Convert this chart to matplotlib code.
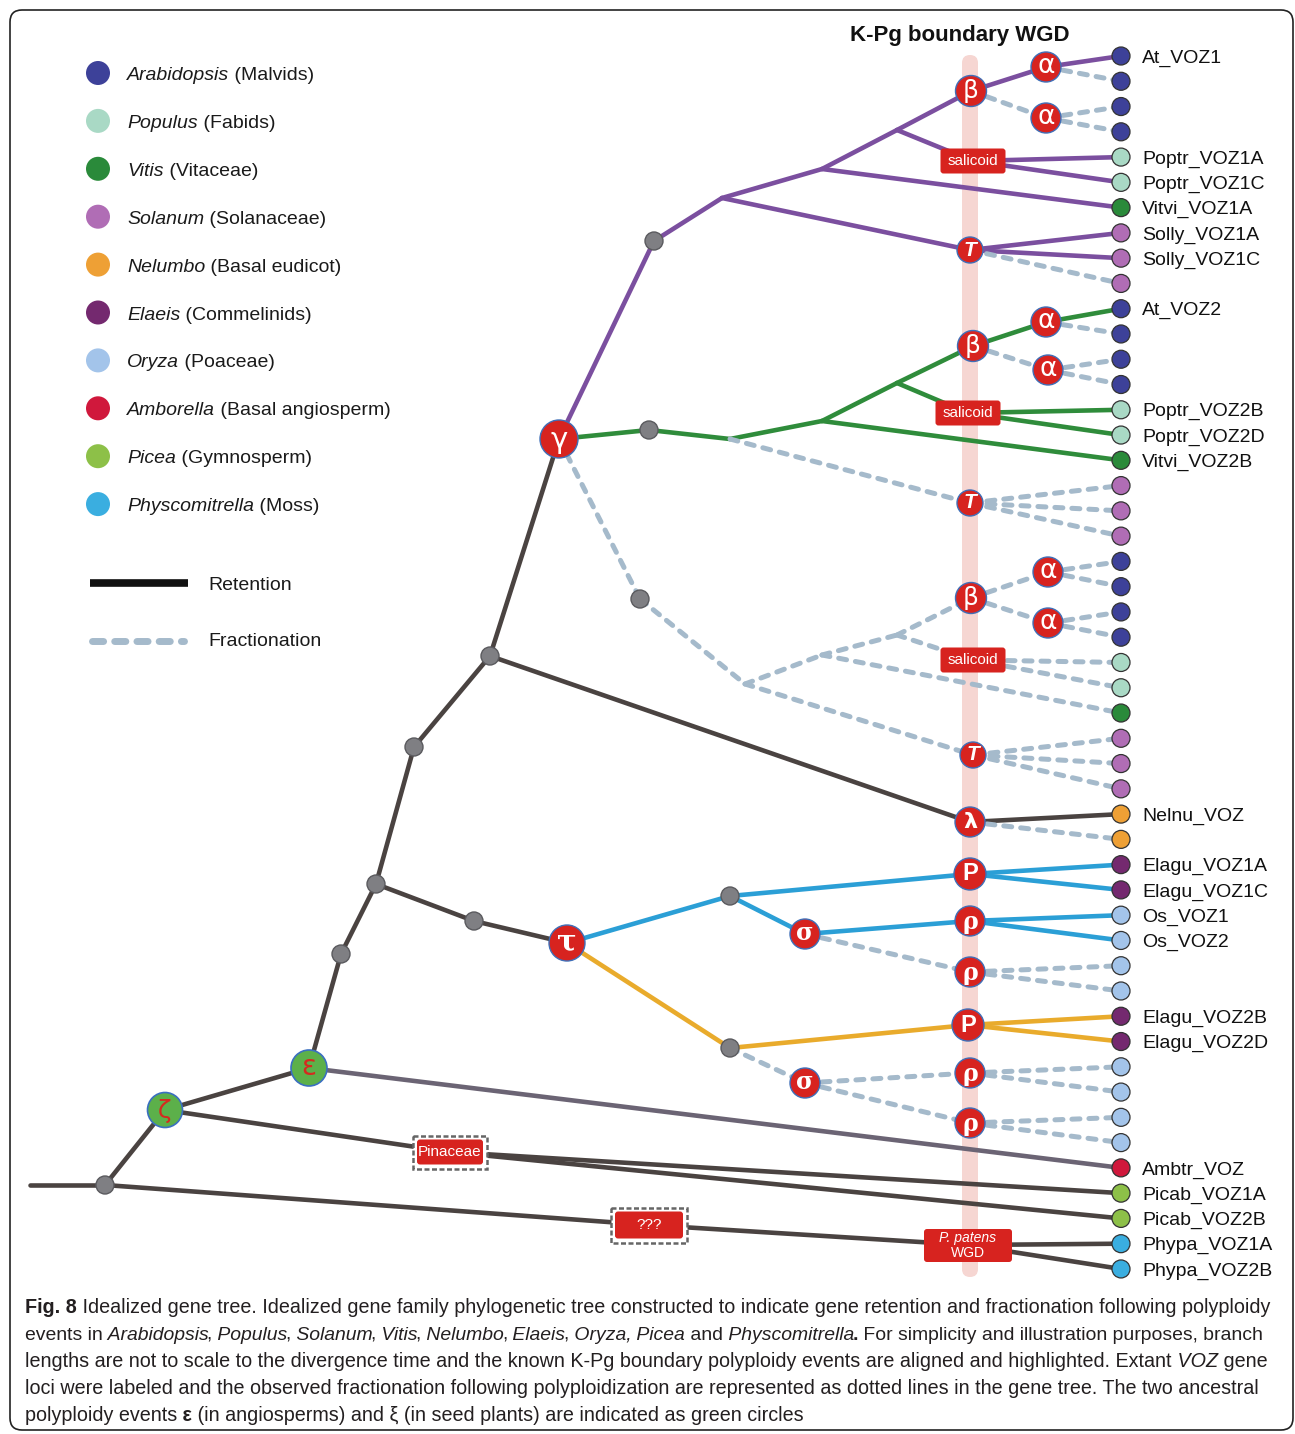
import matplotlib
matplotlib.use('Agg')
import matplotlib.pyplot as plt
from matplotlib.patches import Circle, FancyBboxPatch, Rectangle
from matplotlib.font_manager import FontProperties, findfont

# ---- tips (top to bottom) ----
tip_labels = ['At_VOZ1', '', '', '', 'Poptr_VOZ1A', 'Poptr_VOZ1C', 'Vitvi_VOZ1A',
              'Solly_VOZ1A', 'Solly_VOZ1C', '',
              'At_VOZ2', '', '', '', 'Poptr_VOZ2B', 'Poptr_VOZ2D', 'Vitvi_VOZ2B',
              '', '', '',
              '', '', '', '', '', '', '', '', '', '',
              'Nelnu_VOZ', '', 'Elagu_VOZ1A', 'Elagu_VOZ1C', 'Os_VOZ1', 'Os_VOZ2', '', '',
              'Elagu_VOZ2B', 'Elagu_VOZ2D', '', '', '', '',
              'Ambtr_VOZ', 'Picab_VOZ1A', 'Picab_VOZ2B', 'Phypa_VOZ1A', 'Phypa_VOZ2B']
tip_species = (['Ara'] * 4 + ['Pop'] * 2 + ['Vit'] + ['Sol'] * 3) * 3 + \
    ['Nel'] * 2 + ['Ela'] * 2 + ['Ory'] * 4 + ['Ela'] * 2 + ['Ory'] * 4 + \
    ['Amb'] + ['Pic'] * 2 + ['Phy'] * 2

# ---- legend ----
legend_codes = ['Ara', 'Pop', 'Vit', 'Sol', 'Nel', 'Ela', 'Ory', 'Amb', 'Pic', 'Phy']
legend_genus = ['Arabidopsis', 'Populus', 'Vitis', 'Solanum', 'Nelumbo', 'Elaeis',
                'Oryza', 'Amborella', 'Picea', 'Physcomitrella']
legend_group = ['Malvids', 'Fabids', 'Vitaceae', 'Solanaceae', 'Basal eudicot',
                'Commelinids', 'Poaceae', 'Basal angiosperm', 'Gymnosperm', 'Moss']
species_color = {'Ara': '#3d4199', 'Pop': '#a9d9c5', 'Vit': '#2a8a3a', 'Sol': '#b06db5',
                 'Nel': '#eea035', 'Ela': '#74296f', 'Ory': '#a3c4ea', 'Amb': '#d0183c',
                 'Pic': '#8dc048', 'Phy': '#3aaee0'}

# ---- internal nodes: name -> (x, y) ----
nodes = {
    'stub': (30, 1185), 'root': (105, 1185), 'zeta': (165, 1110), 'eps': (309, 1068),
    'n1': (341, 954), 'n2': (376, 884), 'n3': (474, 921), 'tau': (567, 943),
    'n4': (414, 747), 'n5': (490, 656), 'lam': (970, 822), 'gam': (559, 439),
    'p1': (654, 241), 'p2': (722, 198), 'p3': (822, 169), 'p4': (897, 130),
    'pb': (971, 91), 'pa1': (1046, 67), 'pa2': (1046, 118), 'ps': (973, 161), 'pT': (970, 250),
    'g1': (649, 430), 'g2': (730, 439), 'g3': (822, 421), 'g4': (897, 383),
    'gb': (973, 346), 'ga1': (1046, 322), 'ga2': (1048, 370), 'gs': (968, 413), 'gT': (970, 503),
    'd1': (640, 599), 'd2': (745, 684), 'd3': (822, 655), 'd4': (897, 635),
    'db': (971, 598), 'da1': (1048, 572), 'da2': (1048, 623), 'ds': (973, 660), 'dT': (973, 755),
    'b1': (730, 896), 'bP': (970, 874), 'bs': (805, 934), 'br1': (970, 921), 'br2': (970, 972),
    'o1': (730, 1048), 'oP': (968, 1025), 'os': (805, 1083), 'or1': (970, 1073), 'or2': (970, 1123),
    'pin': (450, 1152), 'qqq': (649, 1225), 'ppw': (968, 1245),
}
grey_nodes = ['root', 'n1', 'n2', 'n3', 'n4', 'n5', 'p1', 'g1', 'd1', 'b1', 'o1']

# event circles: node, glyph, radius
events = [('pb', 'β', 15.5), ('pa1', 'α', 15), ('pa2', 'α', 15), ('pT', 'T', 13),
          ('gb', 'β', 15.5), ('ga1', 'α', 15), ('ga2', 'α', 15), ('gT', 'T', 13),
          ('db', 'β', 15.5), ('da1', 'α', 15), ('da2', 'α', 15), ('dT', 'T', 13),
          ('lam', 'λ', 15), ('gam', 'γ', 19), ('tau', 'τ', 18),
          ('bP', 'P', 16), ('bs', 'σ', 15), ('br1', 'ρ', 15), ('br2', 'ρ', 15),
          ('oP', 'P', 16), ('os', 'σ', 15), ('or1', 'ρ', 15), ('or2', 'ρ', 15)]
green_events = [('zeta', 'ζ', 17.5), ('eps', 'ε', 18)]

# labelled boxes: node, text, width, height, dashed frame
boxes = [('ps', 'salicoid', 65, 25, False), ('gs', 'salicoid', 65, 25, False),
         ('ds', 'salicoid', 65, 25, False), ('pin', 'Pinaceae', 66, 25, True),
         ('qqq', '???', 68, 27, True)]

# ---- branches: parent, child, style ----
edges = [('stub', 'root', 'k'), ('root', 'zeta', 'k'), ('root', 'qqq', 'k'), ('qqq', 'ppw', 'k'),
         ('ppw', 47, 'k'), ('ppw', 48, 'k'), ('zeta', 'eps', 'k'), ('zeta', 'pin', 'k'),
         ('pin', 45, 'k'), ('pin', 46, 'k'), ('eps', 44, 'amb'), ('eps', 'n1', 'k'),
         ('n1', 'n2', 'k'), ('n2', 'n3', 'k'), ('n3', 'tau', 'k'), ('n2', 'n4', 'k'),
         ('n4', 'n5', 'k'), ('n5', 'lam', 'k'), ('lam', 30, 'k'), ('lam', 31, 'frac'),
         ('n5', 'gam', 'k'),
         ('gam', 'p1', 'pur'), ('p1', 'p2', 'pur'), ('p2', 'p3', 'pur'), ('p3', 'p4', 'pur'),
         ('p4', 'pb', 'pur'), ('pb', 'pa1', 'pur'), ('pa1', 0, 'pur'), ('pa1', 1, 'frac'),
         ('pb', 'pa2', 'frac'), ('pa2', 2, 'frac'), ('pa2', 3, 'frac'), ('p4', 'ps', 'pur'),
         ('ps', 4, 'pur'), ('ps', 5, 'pur'), ('p3', 6, 'pur'), ('p2', 'pT', 'pur'),
         ('pT', 7, 'pur'), ('pT', 8, 'pur'), ('pT', 9, 'frac'),
         ('gam', 'g1', 'grn'), ('g1', 'g2', 'grn'), ('g2', 'g3', 'grn'), ('g3', 'g4', 'grn'),
         ('g4', 'gb', 'grn'), ('gb', 'ga1', 'grn'), ('ga1', 10, 'grn'), ('ga1', 11, 'frac'),
         ('gb', 'ga2', 'frac'), ('ga2', 12, 'frac'), ('ga2', 13, 'frac'), ('g4', 'gs', 'grn'),
         ('gs', 14, 'grn'), ('gs', 15, 'grn'), ('g3', 16, 'grn'), ('g2', 'gT', 'frac'),
         ('gT', 17, 'frac'), ('gT', 18, 'frac'), ('gT', 19, 'frac'),
         ('gam', 'd1', 'frac'), ('d1', 'd2', 'frac'), ('d2', 'd3', 'frac'), ('d3', 'd4', 'frac'),
         ('d4', 'db', 'frac'), ('db', 'da1', 'frac'), ('da1', 20, 'frac'), ('da1', 21, 'frac'),
         ('db', 'da2', 'frac'), ('da2', 22, 'frac'), ('da2', 23, 'frac'), ('d4', 'ds', 'frac'),
         ('ds', 24, 'frac'), ('ds', 25, 'frac'), ('d3', 26, 'frac'), ('d2', 'dT', 'frac'),
         ('dT', 27, 'frac'), ('dT', 28, 'frac'), ('dT', 29, 'frac'),
         ('tau', 'b1', 'blu'), ('b1', 'bP', 'blu'), ('bP', 32, 'blu'), ('bP', 33, 'blu'),
         ('b1', 'bs', 'blu'), ('bs', 'br1', 'blu'), ('br1', 34, 'blu'), ('br1', 35, 'blu'),
         ('bs', 'br2', 'frac'), ('br2', 36, 'frac'), ('br2', 37, 'frac'),
         ('tau', 'o1', 'org'), ('o1', 'oP', 'org'), ('oP', 38, 'org'), ('oP', 39, 'org'),
         ('o1', 'os', 'frac'), ('os', 'or1', 'frac'), ('or1', 40, 'frac'), ('or1', 41, 'frac'),
         ('os', 'or2', 'frac'), ('or2', 42, 'frac'), ('or2', 43, 'frac')]
line_color = {'k': '#4a4341', 'amb': '#6b6474', 'pur': '#7b4f9f', 'grn': '#2f8c3b',
              'blu': '#2b9fd6', 'org': '#e9ab2c', 'frac': '#a5bacb'}

caption_lines = [
    [('Fig. 8', 'b'), (' Idealized gene tree. Idealized gene family phylogenetic tree constructed to indicate gene retention and fractionation following polyploidy', '')],
    [('events in', ''), (' Arabidopsis', 'i'), (',', ''), (' Populus', 'i'), (',', ''), (' Solanum', 'i'),
     (',', ''), (' Vitis', 'i'), (',', ''), (' Nelumbo', 'i'), (',', ''), (' Elaeis', 'i'), (',', ''),
     (' Oryza,', 'i'), (' Picea', 'i'), (' and', ''), (' Physcomitrella', 'i'), ('.', 'b'),
     (' For simplicity and illustration purposes, branch', '')],
    [('lengths are not to scale to the divergence time and the known K-Pg boundary polyploidy events are aligned and highlighted. Extant', ''),
     (' VOZ', 'i'), (' gene', '')],
    [('loci were labeled and the observed fractionation following polyploidization are represented as dotted lines in the gene tree. The two ancestral', '')],
    [('polyploidy events', ''), (' ε', 'b'), (' (in angiosperms) and ξ (in seed plants) are indicated as green circles', '')],
]

W, H = 1295, 1434
TIP_X, TIP_TOP, TIP_STEP = 1121, 56, 25.27
SANS = 'Liberation Sans'

fig = plt.figure(figsize=(W / 100, H / 100), dpi=100)
ax = fig.add_axes([0, 0, 1, 1])
ax.set_xlim(0, W)
ax.set_ylim(H, 0)
ax.axis('off')
renderer = fig.canvas.get_renderer()


def pos(n):
    if isinstance(n, int):
        return TIP_X, TIP_TOP + n * TIP_STEP
    return nodes[n]


def rich(x, y, parts, size, family, color='#1a1a1a', va='baseline', z=6):
    # lay out text pieces one after another, each with its own style
    arts = []
    for k, (s, st) in enumerate(parts):
        t = ax.text(x, y, s, fontsize=size, family=family, color=color, va=va, ha='left',
                    fontstyle='italic' if 'i' in st else 'normal',
                    fontweight='bold' if 'b' in st else 'normal', zorder=z)
        arts.append(t)
        bb = t.get_window_extent(renderer)
        x = ax.transData.inverted().transform((bb.x1, bb.y0))[0]
        nxt = parts[k + 1][0] if k + 1 < len(parts) else ' '
        if 'i' in st and not nxt.startswith(' '):
            # italic ink box overhangs the advance; pull punctuation back in
            x -= 0.09 * size * 100 / 72
    return x, arts


def pick_font(names):
    for n in names:
        try:
            findfont(FontProperties(family=n), fallback_to_default=False)
            return n
        except ValueError:
            pass
    return 'DejaVu Sans'


# frame
ax.add_patch(FancyBboxPatch((10, 10), 1283, 1420, boxstyle='round,pad=0,rounding_size=12',
                            fc='none', ec='#222222', lw=1.2, zorder=0))

# K-Pg band
ax.add_patch(FancyBboxPatch((962, 55), 16, 1222, boxstyle='round,pad=0,rounding_size=8',
                            fc='#f6d6d2', ec='none', zorder=1))
ax.text(960, 36, 'K-Pg boundary WGD', fontsize=16, family=SANS, fontweight='bold',
        ha='center', va='center', color='#111111')

# branches
for a, b, st in edges:
    (x0, y0), (x1, y1) = pos(a), pos(b)
    if st == 'frac':
        ax.plot([x0, x1], [y0, y1], color=line_color[st], lw=3.6, ls=(0, (1.6, 1.8)),
                dash_capstyle='round', zorder=2)
    else:
        ax.plot([x0, x1], [y0, y1], color=line_color[st], lw=3.3,
                solid_capstyle='round', zorder=2)

# tips and labels
for i, (lab, sp) in enumerate(zip(tip_labels, tip_species)):
    x, y = pos(i)
    ax.add_patch(Circle((x, y), 9, fc=species_color[sp], ec='#333333', lw=0.9, zorder=4))
    if lab:
        ax.text(x + 21, y, lab, fontsize=14, family=SANS, color='#111111',
                ha='left', va='center_baseline', zorder=6)

# grey nodes
for n in grey_nodes:
    ax.add_patch(Circle(nodes[n], 9, fc='#7f7f83', ec='#5a5a5e', lw=1, zorder=4))

# event circles
glyph_style = {
    'α': dict(family='DejaVu Sans', size=19, weight='normal', style='normal', dy=-1),
    'β': dict(family='DejaVu Sans', size=18, weight='normal', style='normal', dy=0),
    'T': dict(family=SANS, size=15, weight='bold', style='italic', dy=0),
    'λ': dict(family='DejaVu Sans', size=16, weight='bold', style='normal', dy=0),
    'γ': dict(family='DejaVu Sans', size=21, weight='normal', style='normal', dy=1),
    'τ': dict(family='DejaVu Serif', size=21, weight='bold', style='normal', dy=-1),
    'P': dict(family=SANS, size=17, weight='bold', style='normal', dy=0),
    'σ': dict(family='DejaVu Serif', size=17, weight='bold', style='normal', dy=-1),
    'ρ': dict(family='DejaVu Serif', size=17, weight='bold', style='normal', dy=1),
    'ζ': dict(family='DejaVu Sans', size=18, weight='normal', style='normal', dy=1),
    'ε': dict(family='DejaVu Sans', size=20, weight='normal', style='normal', dy=-1),
}
for n, g, r in events:
    x, y = nodes[n]
    ax.add_patch(Circle((x, y), r, fc='#d7231f', ec='#3f6fb8', lw=1, zorder=5))
    s = glyph_style[g]
    ax.text(x, y + s['dy'], g, fontsize=s['size'], family=s['family'], fontweight=s['weight'],
            fontstyle=s['style'], color='white', ha='center', va='center', zorder=6)
for n, g, r in green_events:
    x, y = nodes[n]
    ax.add_patch(Circle((x, y), r, fc='#5cb04a', ec='#3a6fc0', lw=1.2, zorder=5))
    s = glyph_style[g]
    ax.text(x, y + s['dy'], g, fontsize=s['size'], family=s['family'], color='#d52a1f',
            ha='center', va='center', zorder=6)

# labelled boxes
for n, txt, w, h, framed in boxes:
    x, y = nodes[n]
    if framed:
        ax.add_patch(Rectangle((x - w / 2 - 4, y - h / 2 - 4), w + 8, h + 8, fc='white',
                               ec='#666666', lw=1.8, ls=(0, (2, 1)), zorder=4))
    ax.add_patch(FancyBboxPatch((x - w / 2, y - h / 2), w, h,
                                boxstyle='round,pad=0,rounding_size=3',
                                fc='#d7231f', ec='none', zorder=5))
    ax.text(x, y, txt, fontsize=11, family=SANS, color='white', ha='center',
            va='center', zorder=6)

# P. patens WGD box
x, y = nodes['ppw']
ax.add_patch(FancyBboxPatch((x - 44, y - 16), 88, 33, boxstyle='round,pad=0,rounding_size=3',
                            fc='#d7231f', ec='none', zorder=5))
ax.text(x, y - 7, 'P. patens', fontsize=10, family=SANS, fontstyle='italic', color='white',
        ha='center', va='center', zorder=6)
ax.text(x, y + 8, 'WGD', fontsize=10, family=SANS, color='white',
        ha='center', va='center', zorder=6)

# legend
for i, (code, genus, group) in enumerate(zip(legend_codes, legend_genus, legend_group)):
    y = 73 + i * 47.9
    ax.add_patch(Circle((98, y), 12, fc=species_color[code], ec='none', zorder=4))
    rich(127, y + 7, [(genus, 'i'), (' (' + group + ')', '')], 14, SANS)

ax.plot([90, 188], [583, 583], color='#111111', lw=5.5, solid_capstyle='butt')
ax.text(208, 585, 'Retention', fontsize=14, family=SANS, va='center', color='#1a1a1a')
ax.plot([92, 184], [641, 641], color='#a5bacb', lw=5, ls=(0, (1.6, 1.6)),
        dash_capstyle='round')
ax.text(208, 642, 'Fractionation', fontsize=14, family=SANS, va='center', color='#1a1a1a')

# caption, sized so the first line fills the text width
cap_font = pick_font(['Liberation Sans Narrow', 'DejaVu Sans Condensed', SANS])
probe = ax.text(0, 0, ''.join(s for s, _ in caption_lines[0]), fontsize=12, family=cap_font)
pw = probe.get_window_extent(renderer).width
probe.remove()
cap_size = 12 * 1243 / pw
for k, parts in enumerate(caption_lines):
    y = 1313 + k * 26.9
    x_end, arts = rich(25, y, parts, cap_size, cap_font, color='#231f20')
    if x_end > 1270:
        # redo a line that runs past the margin at a slightly smaller size
        for a in arts:
            a.remove()
        rich(25, y, parts, cap_size * 1243 / (x_end - 25), cap_font, color='#231f20')

fig.savefig('out.png', dpi=100)
